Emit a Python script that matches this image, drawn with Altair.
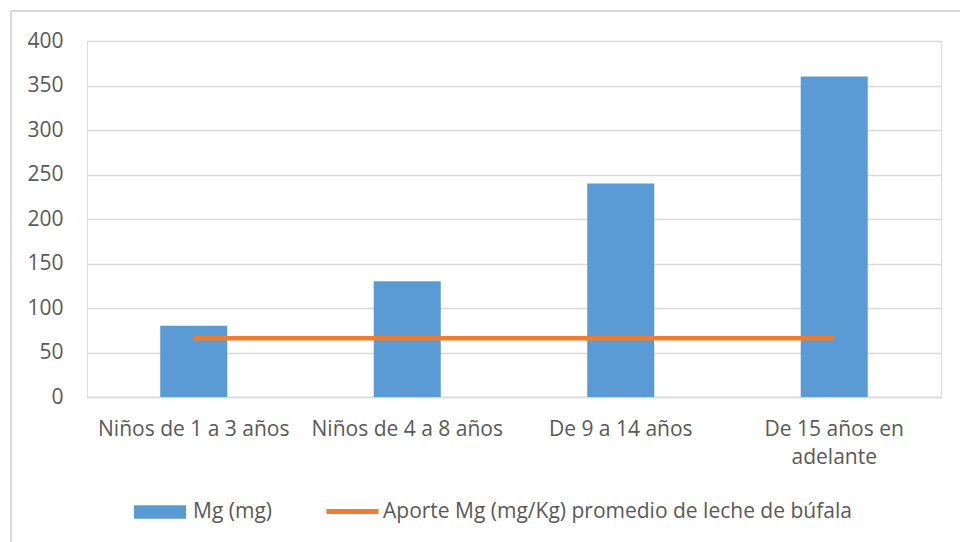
import altair as alt
import pandas as pd

# Recommended daily magnesium intake by age group, with the average
# magnesium contribution of buffalo milk drawn as a reference line.
grupos = ["Niños de 1 a 3 años", "Niños de 4 a 8 años", "De 9 a 14 años", "De 15 años en adelante"]
mg_requerido = [80, 130, 240, 360]
aporte_leche = [66, 66, 66, 66]

serie_barra = "Mg (mg)"
serie_linea = "Aporte Mg (mg/Kg) promedio de leche de búfala"

df_bar = pd.DataFrame({"grupo": grupos, "valor": mg_requerido, "serie": serie_barra})
df_line = pd.DataFrame({"grupo": grupos, "valor": aporte_leche, "serie": serie_linea})

FONT = "Open Sans"
FS = 21
TXT = "#595959"
GRID = "#d9d9d9"
W, H = 854, 356

legend_common = dict(
    title=None,
    orient="none",
    direction="horizontal",
    labelFontSize=FS,
    labelColor=TXT,
    labelFont=FONT,
    labelLimit=600,
    symbolSize=2704,
)

x_enc = alt.X(
    "grupo:N",
    sort=grupos,
    title=None,
    scale=alt.Scale(paddingInner=0.686, paddingOuter=0.343),
    axis=alt.Axis(
        labelAngle=0,
        ticks=False,
        domainColor=GRID,
        domainWidth=1.5,
        labelPadding=21,
        labelFontSize=FS,
        labelColor=TXT,
        labelFont=FONT,
        labelLimit=300,
        labelLineHeight=28,
        labelExpr="datum.label == 'De 15 años en adelante' ? ['De 15 años en', 'adelante'] : datum.label",
    ),
)

y_scale = alt.Scale(domain=[0, 400])

bars = alt.Chart(df_bar).mark_bar().encode(
    x=x_enc,
    y=alt.Y(
        "valor:Q",
        title=None,
        scale=y_scale,
        axis=alt.Axis(
            values=[0, 50, 100, 150, 200, 250, 300, 350, 400],
            ticks=False,
            domain=False,
            gridColor=GRID,
            gridWidth=1.5,
            labelPadding=24,
            labelFontSize=FS,
            labelColor=TXT,
            labelFont=FONT,
        ),
    ),
    fill=alt.Fill(
        "serie:N",
        scale=alt.Scale(domain=[serie_barra], range=["#5B9BD5"]),
        legend=alt.Legend(
            legendX=47,
            legendY=445,
            symbolType="M-1,-0.26H1V0.26H-1Z",
            symbolStrokeWidth=0,
            labelOffset=7,
            **legend_common,
        ),
    ),
)

line = alt.Chart(df_line).mark_line(strokeWidth=4.5).encode(
    x=alt.X("grupo:N", sort=grupos, bandPosition=0.5),
    y=alt.Y("valor:Q", scale=y_scale),
    stroke=alt.Stroke(
        "serie:N",
        scale=alt.Scale(domain=[serie_linea], range=["#ED7D31"]),
        legend=alt.Legend(
            legendX=237,
            legendY=442,
            symbolType="M-1,0H1",
            symbolStrokeWidth=5,
            labelOffset=2,
            **legend_common,
        ),
    ),
)

# Light frame around the whole figure (left and top edges are visible)
frame_left = alt.Chart(df_bar).mark_rule(color=GRID, strokeWidth=2, clip=False).encode(
    x=alt.value(-76), y=alt.value(-30), y2=alt.value(H + 200)
)
frame_top = alt.Chart(df_bar).mark_rule(color=GRID, strokeWidth=2, clip=False).encode(
    x=alt.value(-76), x2=alt.value(W + 200), y=alt.value(-30)
)

chart = (
    alt.layer(frame_left, frame_top, bars, line)
    .resolve_scale(fill="independent", stroke="independent")
    .properties(
        width=W,
        height=H,
        autosize=alt.AutoSizeParams(type="none"),
        padding={"left": 87, "top": 41, "right": 19, "bottom": 145},
    )
    .configure_view(stroke=None)
    .configure(background="white")
)

chart.save("out.html", embed_options={"renderer": "svg", "actions": False})
